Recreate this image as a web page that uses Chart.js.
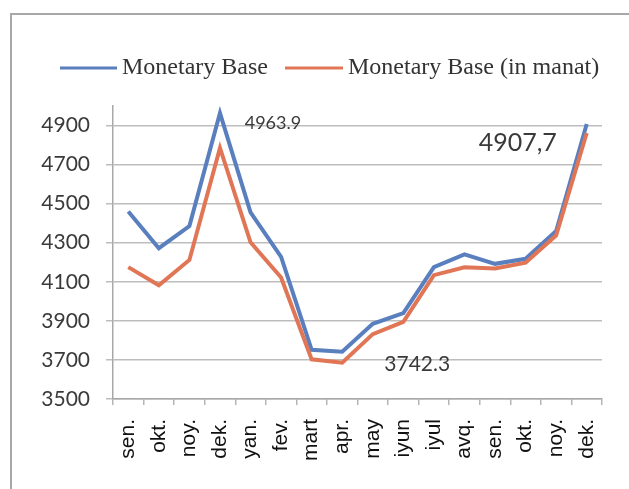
<!DOCTYPE html>
<html>
<head>
<meta charset="utf-8">
<script src="https://cdn.jsdelivr.net/npm/chart.js@4.4.0/dist/chart.umd.min.js"></script>
<style>
  html, body { margin: 0; padding: 0; background: #fff; }
  #wrap { width: 629px; height: 489px; }
</style>
</head>
<body>
<div id="wrap"><canvas id="chart" width="629" height="489"></canvas></div>
<script>
// months on the axis
var months = ["sen.", "okt.", "noy.", "dek.", "yan.", "fev.", "mart", "apr.", "may", "iyun", "iyul", "avq.", "sen.", "okt.", "noy.", "dek."];

var monetaryBase = [4460, 4272, 4385, 4963.9, 4455, 4228, 3752, 3742.3, 3885, 3940, 4175, 4240, 4192, 4218, 4360, 4907.7];
var monetaryBaseManat = [4175, 4082, 4212, 4785, 4302, 4122, 3703, 3686, 3832, 3895, 4134, 4174, 4168, 4198, 4338, 4862];

var seriesNames = ["Monetary Base", "Monetary Base (in manat)"];
var yTicks = [3500, 3700, 3900, 4100, 4300, 4500, 4700, 4900];

// value labels written on the chart: text, series, point index, offset from point
var notes = [
  { text: "4963.9", series: 0, index: 3, dx: 53, dy: 10, size: 18 },
  { text: "4907,7", series: 0, index: 15, dx: -69, dy: 19, size: 25 },
  { text: "3742.3", series: 0, index: 7, dx: 75, dy: 13, size: 21 }
];

var blue = "#5a7fbf";
var red = "#e07656";

// grey frame + legend + value labels
var extras = {
  id: "extras",
  beforeDraw: function (chart) {
    var ctx = chart.ctx;
    ctx.save();
    ctx.fillStyle = "#fff";
    ctx.fillRect(0, 0, chart.width, chart.height);
    ctx.strokeStyle = "#a8a8a8";
    ctx.lineWidth = 2;
    ctx.beginPath();
    ctx.moveTo(11, chart.height);
    ctx.lineTo(11, 14);
    ctx.lineTo(chart.width, 14);
    ctx.stroke();
    ctx.restore();
  },
  afterDraw: function (chart) {
    var ctx = chart.ctx;
    ctx.save();
    // legend
    var items = [
      { x1: 60, x2: 117, tx: 122, color: blue, label: seriesNames[0] },
      { x1: 285, x2: 343, tx: 348, color: red, label: seriesNames[1] }
    ];
    ctx.font = "24px 'Liberation Serif'";
    ctx.textBaseline = "middle";
    items.forEach(function (it) {
      ctx.strokeStyle = it.color;
      ctx.lineWidth = 3;
      ctx.beginPath();
      ctx.moveTo(it.x1, 68);
      ctx.lineTo(it.x2, 68);
      ctx.stroke();
      ctx.fillStyle = "#333";
      ctx.fillText(it.label, it.tx, 68);
    });
    // value notes
    var xs = chart.scales.x, ys = chart.scales.y;
    var data = [monetaryBase, monetaryBaseManat];
    ctx.textAlign = "center";
    notes.forEach(function (n) {
      var px = xs.getPixelForValue(n.index);
      var py = ys.getPixelForValue(data[n.series][n.index]);
      ctx.font = n.size + "px Lato";
      ctx.fillStyle = "#3a3a3a";
      ctx.fillText(n.text, px + n.dx, py + n.dy);
    });
    ctx.restore();
  }
};

new Chart(document.getElementById("chart").getContext("2d"), {
  type: "line",
  data: {
    labels: months,
    datasets: [{
      label: seriesNames[0],
      data: monetaryBase,
      borderColor: blue,
      borderWidth: 4,
      pointRadius: 0,
      tension: 0,
      order: 1
    }, {
      label: seriesNames[1],
      data: monetaryBaseManat,
      borderColor: red,
      borderWidth: 4,
      pointRadius: 0,
      tension: 0,
      order: 0
    }]
  },
  options: {
    responsive: false,
    animation: false,
    layout: { padding: { left: 10, top: 106, right: 27, bottom: 0 } },
    plugins: {
      legend: { display: false },
      tooltip: { enabled: false }
    },
    scales: {
      x: {
        offset: true,
        grid: { offset: true, drawOnChartArea: false, drawTicks: true, tickLength: 6, color: "#b5b5b5", lineWidth: 1.5 },
        border: { color: "#a8a8a8", width: 1.5 },
        ticks: {
          color: "#111",
          font: { family: "'Liberation Sans'", size: 21 },
          minRotation: 90,
          maxRotation: 90,
          padding: 14,
          autoSkip: false
        },
        afterFit: function (scale) { scale.height = 90; }
      },
      y: {
        min: 3500,
        max: 5000,
        afterBuildTicks: function (scale) {
          scale.ticks = yTicks.map(function (v) { return { value: v }; });
        },
        grid: { color: "#bdbdbd", lineWidth: 1.5, drawTicks: true, tickLength: 7 },
        border: { color: "#a8a8a8", width: 1.5 },
        ticks: {
          color: "#3a3a3a",
          font: { family: "Lato", size: 21 },
          padding: 16,
          callback: function (v) { return String(v); }
        },
        afterFit: function (scale) { scale.width = 103; }
      }
    }
  },
  plugins: [extras]
});
</script>
</body>
</html>
